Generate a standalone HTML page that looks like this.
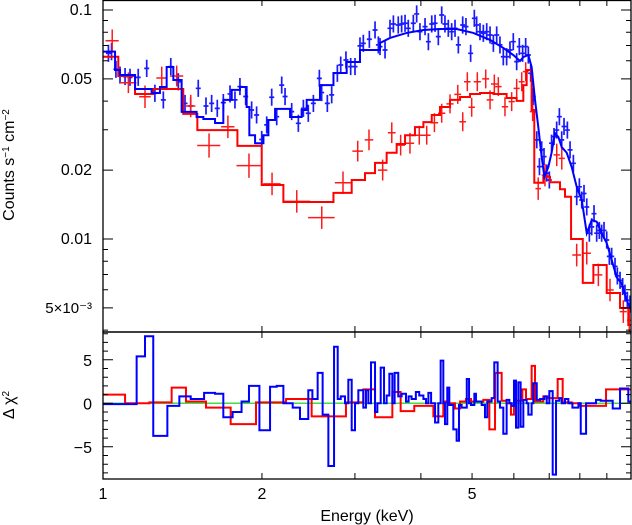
<!DOCTYPE html>
<html><head><meta charset="utf-8"><style>
html,body{margin:0;padding:0;background:#fff;}
svg{display:block;font-family:"Liberation Sans",sans-serif;}
</style></head><body>
<svg id="chart" width="632" height="525" viewBox="0 0 632 525" xmlns="http://www.w3.org/2000/svg">
<defs>
<clipPath id="clipTop"><rect x="103" y="0" width="528" height="332"/></clipPath>
<clipPath id="clipBot"><rect x="103" y="332" width="528" height="147"/></clipPath>
</defs>
<g id="gTop" clip-path="url(#clipTop)"></g>
<g id="gBot" clip-path="url(#clipBot)"></g>
<g id="gAxes"></g>
<text x="14" y="165" font-size="16" text-anchor="middle" transform="rotate(-90 14 165)">Counts s<tspan baseline-shift="super" font-size="10">−1</tspan> cm<tspan baseline-shift="super" font-size="10">−2</tspan></text>
<text x="14" y="405" font-size="16" text-anchor="middle" transform="rotate(-90 14 405)">Δ χ<tspan baseline-shift="super" font-size="10">2</tspan></text>
<text x="367" y="521" font-size="16" text-anchor="middle">Energy (keV)</text>
</svg>
<script>
// ---- data ----
const redModelEdges=[1.0,1.069,1.150,1.245,1.419,1.509,1.797,1.998,2.196,2.732,2.958,3.135,3.275,3.445,3.599,3.733,3.898,4.044,4.194,4.348,4.542,4.745,4.956,5.176,5.487,5.814,6.073,6.253,6.344,6.483,6.559,6.823,7.024,7.337,7.499,7.700,8.103,8.486,8.995,9.533,9.883,10.04];
const redModelVals=[.0625,.0515,.0430,.0452,.0352,.0299,.0255,.0172,.0145,.0159,.0181,.0194,.0215,.0238,.0260,.0284,.0308,.0324,.0348,.0377,.0405,.0417,.0430,.0434,.0430,.0413,.0401,.0470,.0547,.0366,.0176,.0187,.0177,.0165,.0153,.0100,.00643,.0077,.00581,.0050,.00421];
const redDataE=[1.041,1.117,1.201,1.292,1.379,1.466,1.588,1.724,1.890,2.090,2.328,2.596,2.848,3.037,3.190,3.386,3.523,3.662,3.814,3.972,4.103,4.243,4.380,4.542,4.698,4.801,4.898,4.992,5.116,5.307,5.408,5.510,5.607,5.772,5.943,6.074,6.209,6.318,6.512,6.672,6.872,7.234,7.394,7.891,8.245,8.673,9.125,9.670,9.926];
const redDataC=[.0734,.0481,.0418,.0505,.0515,.0381,.0256,.0309,.0209,.0174,.0146,.0124,.0176,.0242,.0271,.0200,.0291,.0257,.0262,.0284,.0284,.0322,.0354,.0389,.0428,.0325,.0486,.0376,.0486,.0500,.0405,.0475,.0463,.0378,.0398,.0455,.0486,.0538,.0360,.0166,.0190,.0233,.0225,.00851,.00867,.00697,.00599,.00482,.00442];
const redDataHW=[.03,.04,.03,.03,.04,.03,.08,.05,.10,.08,.14,.15,.10,.07,.06,.07,.06,.07,.07,.07,.07,.07,.07,.07,.07,.07,.07,.07,.08,.08,.08,.08,.08,.08,.08,.08,.08,.08,.08,.08,.1,.1,.1,.15,.15,.15,.15,.15,.1];
const redDataErr=[.12,.11,.12,.12,.11,.12,.13,.12,.13,.12,.12,.12,.12,.11,.11,.11,.11,.11,.11,.1,.1,.1,.1,.1,.1,.1,.1,.1,.1,.1,.1,.1,.1,.1,.1,.1,.1,.1,.1,.12,.12,.12,.12,.12,.12,.12,.12,.12,.12];

const blueStepEdges=[1.0,1.054,1.077,1.150,1.236,1.282,1.320,1.359,1.409,1.504,1.549,1.630,1.690,1.753,1.817,1.871,1.893,1.941,2.013,2.057,2.118,2.261,2.378,2.431,2.576,2.732,2.894,3.067,3.347];
const blueStepVals=[.0658,.0547,.0520,.0452,.0434,.0461,.0564,.0495,.0359,.0341,.0334,.0321,.0405,.0448,.0461,.0377,.0284,.0262,.0284,.0331,.0370,.0341,.0366,.0405,.0470,.0531,.0593,.0669];
const blueCurveE=[3.347,3.496,3.759,4.044,4.348,4.675,5.028,5.408,5.730,5.985,6.164,6.253,6.391,6.483,6.580,6.675,6.774,6.854,6.973,7.073,7.178,7.285,7.392,7.555,7.722,7.892,8.067,8.245,8.426,8.610,8.799,8.995,9.192,9.395,9.601,9.813,9.957,10.04];
const blueCurveC=[.0718,.0755,.0794,.0818,.0826,.0826,.0794,.0740,.0683,.0636,.0599,.0623,.0636,.0564,.0405,.0308,.0228,.0187,.0206,.0238,.0290,.0279,.0252,.0238,.0206,.0169,.0148,.0106,.0121,.0119,.0106,.0096,.0081,.0068,.0064,.0054,.0050,.0050];
const blueDataE=[1.024,1.038,1.058,1.077,1.101,1.125,1.166,1.210,1.254,1.301,1.344,1.389,1.430,1.466,1.515,1.567,1.606,1.646,1.690,1.740,1.778,1.817,1.863,1.912,1.954,1.998,2.042,2.087,2.133,2.180,2.212,2.277,2.344,2.396,2.448,2.503,2.569,2.595,2.660,2.711,2.779,2.820,2.885,2.945,3.001,3.067,3.112,3.195,3.275,3.323,
3.347,3.421,3.496,3.548,3.624,3.678,3.733,3.786,3.870,3.927,3.984,4.073,4.133,4.194,4.255,4.316,4.380,4.443,4.508,4.575,4.642,4.710,4.800,4.869,4.969,5.050,5.101,5.176,5.252,5.330,5.408,5.487,5.567,5.647,5.730,5.814,5.899,5.985,6.074,6.144,6.234,6.317,6.391,6.457,6.531,6.630,6.708,6.774,6.843,6.924,7.004,7.073,7.148,7.232,7.317,7.392,7.467,7.577,7.666,7.778,7.892,7.984,8.067,8.147,8.245,8.339,8.426,8.511,8.610,8.710,8.799,8.890,8.995,9.098,9.192,9.327,9.422,9.533,9.643,9.741,9.842,9.957];
const blueDataC=[.0647,.0658,.0551,.0520,.0512,.0508,.0508,.0556,.0433,.0405,.0566,.0486,.0391,.0381,.0455,.0381,.0391,.0372,.0394,.0430,.0405,.0463,.0419,.0366,.0348,.0272,.0315,.0416,.0342,.0470,.0419,.0360,.0320,.0372,.0354,.0391,.0503,.0436,.0391,.0426,.0529,.0575,.0605,.0566,.0566,.0697,.0715,.0745,.0818,.0704,
.0692,.0669,.0832,.0869,.0860,.0869,.0875,.0832,.0875,.0961,.0804,.0846,.0727,.0869,.0875,.0765,.0951,.0869,.0832,.0804,.0832,.0704,.0860,.0846,.0647,.0920,.0860,.0804,.0791,.0804,.0778,.0715,.0778,.0704,.0625,.0625,.0669,.0727,.0595,.0692,.0647,.0692,.0636,.0529,.0419,.0271,.0207,.0245,.0229,.0194,.0181,.0262,.0280,.0299,.0342,.0271,.0310,.0299,.0245,.0214,.0153,.0169,.0148,.0158,.0138,.0106,.0113,.0129,.0106,.0109,.0106,.0109,.0099,.0084,.0084,.0076,.0069,.0066,.0062,.0058,.0054,.0052];

const blueResEdges=[1.0,1.158,1.201,1.245,1.324,1.395,1.466,1.554,1.630,1.690,1.760,1.830,1.890,1.978,2.072,2.133,2.196,2.287,2.361,2.448,2.492,2.550,2.606,2.672,2.739,2.783,2.820,2.873,2.915,2.958,3.001,3.045,3.112,3.148,
3.181,3.218,3.275,3.308,3.357,3.406,3.445,3.486,3.532,3.567,3.624,3.678,3.748,3.791,3.841,3.913,3.971,4.044,4.091,4.133,4.182,4.255,4.316,4.360,4.411,4.443,4.488,4.528,4.608,4.675,4.723,4.778,4.886,4.935,4.977,5.050,5.086,5.214,5.290,5.343,5.445,5.509,5.590,5.647,5.730,5.814,5.883,5.943,6.003,6.056,6.118,6.180,6.253,6.344,6.391,6.483,6.531,6.630,6.728,6.854,6.924,7.004,7.107,7.211,7.317,7.392,7.499,7.609,7.745,7.951,8.032,8.221,8.585,8.762,9.233,9.533,9.883,10.04];
const blueResVals=[-0.1,5.4,7.7,-3.75,-0.3,0.8,0.5,1.2,1.1,-1.6,-1.0,0.2,2.0,-3.1,1.9,2.0,0,-0.5,-1.8,1.5,0.5,3.5,-1.3,-7.2,6.5,0.5,0.8,0,2.7,-3.1,0,1.5,-0.5,1.5,
0,4.7,-1.0,0,4.1,0,0.9,3.4,0,3.5,0.8,1.1,0.2,0.8,0.5,1.3,0.9,0.5,0,1.2,0,-2.2,0,4.9,0,-2.4,1.8,-0.2,-3.0,-4.3,-0.2,-0.5,2.8,0,-0.2,1.1,0.2,-0.2,-1.6,0.2,0.6,4.7,0.2,-0.5,-3.5,0.4,0,-0.3,2.6,-2.8,2.4,-2.7,0.4,0,-1.3,0,2.3,0.4,0.5,0.8,0,1.4,-8.2,0.3,0.6,0,0.5,0,-0.5,0,-3.5,0,0.4,0.3,-0.6,1.7,0.2];
const redResEdges=[1.0,1.101,1.224,1.349,1.436,1.567,1.745,1.949,2.222,2.484,2.885,3.112,3.275,3.532,3.662,3.886,4.224,4.411,4.508,4.642,4.745,4.869,4.977,5.252,5.392,5.527,5.689,5.814,5.925,6.003,6.225,6.326,6.483,6.580,6.823,6.954,7.263,7.423,7.722,8.008,8.968,10.04];
const redResVals=[1.0,0,0.1,1.8,0.2,-0.5,-2.4,0.1,0.5,-1.5,0.1,1.6,-1.6,1.3,-0.9,-0.3,-1.5,0.2,0,-0.6,0.2,0.5,0.2,0.4,-3.0,3.5,0.3,0,-1.3,0.3,1.6,0.5,4.3,0.2,0.8,0.6,2.8,0.1,0,-0.3,1.6];

const xTicks=[1,2,3,4,5,6,7,8,9,10];
const xTickLabels=["1","2","5"];
const yMajor=[0.1,0.05,0.02,0.01,0.005];
const yMajorLabels=["0.1","0.05","0.02","0.01","5×10⁻³"];
const yMinor=[0.09,0.08,0.07,0.06,0.04,0.03,0.009,0.008,0.007,0.006,0.004];
const resMajor=[5,0,-5];
const resMinor=[8,7,6,4,3,2,1,-1,-2,-3,-4,-6,-7,-8];

// ---- scales ----
const NS="http://www.w3.org/2000/svg";
const X0=103,X1=631,TOP0=0,TOP1=332,BOT0=332,BOT1=479;
function xs(e){return X0+528*Math.log10(e);}
function ys(c){return 10+229*Math.log10(0.1/c);}
function yr(v){return 403.3-8.7*v;}
function mk(tag,parent,attrs){const el=document.createElementNS(NS,tag);for(const k in attrs)el.setAttribute(k,attrs[k]);parent.appendChild(el);return el;}
const gTop=document.getElementById('gTop'),gBot=document.getElementById('gBot'),gAx=document.getElementById('gAxes');
function stepPath(edges,vals,yf){let d='M'+xs(edges[0]).toFixed(2)+' '+yf(vals[0]).toFixed(2);
 for(let i=0;i<vals.length;i++){d+=' H'+xs(edges[i+1]).toFixed(2);if(i+1<vals.length)d+=' V'+yf(vals[i+1]).toFixed(2);}return d;}

// blue data
for(let i=0;i<blueDataE.length;i++){const x=xs(blueDataE[i]),c=blueDataC[i];
 const p=mk('path',gTop,{d:'M'+(x-2.5)+' '+ys(c)+' H'+(x+2.5)+' M'+x+' '+ys(c*1.09)+' V'+ys(c/1.09),stroke:'#1a1aff','stroke-width':1.7,fill:'none'});
 
 }
// red data
for(let i=0;i<redDataE.length;i++){const e=redDataE[i],c=redDataC[i],hw=redDataHW[i],er=1+redDataErr[i];
 const p=mk('path',gTop,{d:'M'+xs(e-hw)+' '+ys(c)+' H'+xs(e+hw)+' M'+xs(e)+' '+ys(c*er)+' V'+ys(c/er),stroke:'#ff1a1a','stroke-width':1.5,fill:'none'});
 
 }
// red model
let rm=mk('path',gTop,{d:stepPath(redModelEdges,redModelVals,ys),stroke:'#ff0000','stroke-width':2,fill:'none'});


// blue model
let bd=stepPath(blueStepEdges,blueStepVals,ys);
for(let i=0;i<blueCurveE.length;i++)bd+=' L'+xs(blueCurveE[i]).toFixed(2)+' '+ys(blueCurveC[i]).toFixed(2);
let bm=mk('path',gTop,{d:bd,stroke:'#0000ff','stroke-width':2,fill:'none'});



// residuals
let zl=mk('line',gBot,{x1:X0,x2:X1,y1:yr(0),y2:yr(0),stroke:'#44dd44','stroke-width':1.5});


let rr=mk('path',gBot,{d:stepPath(redResEdges,redResVals,yr),stroke:'#ff0000','stroke-width':2,fill:'none'});


let br=mk('path',gBot,{d:stepPath(blueResEdges,blueResVals,yr),stroke:'#0000ff','stroke-width':2,fill:'none'});



// frames
for(const [y0,y1,nm] of [[TOP0+0.5,TOP1,'spectrum-frame'],[BOT0,BOT1,'residual-frame']]){
 const r=mk('rect',gAx,{x:X0,y:y0,width:X1-X0,height:y1-y0,fill:'none',stroke:'#000','stroke-width':1.3});
 
 }
// ticks
let td='';
for(const t of xTicks){const x=xs(t);td+='M'+x+' '+(TOP0)+' v6 M'+x+' '+TOP1+' v-6 M'+x+' '+BOT0+' v6 M'+x+' '+BOT1+' v-6 ';}
for(const v of yMajor){const y=ys(v);td+='M'+X0+' '+y+' h10 M'+X1+' '+y+' h-10 ';}
for(const v of yMinor){const y=ys(v);td+='M'+X0+' '+y+' h5 M'+X1+' '+y+' h-5 ';}
for(const v of resMajor){const y=yr(v);td+='M'+X0+' '+y+' h10 M'+X1+' '+y+' h-10 ';}
for(const v of resMinor){const y=yr(v);td+='M'+X0+' '+y+' h5 M'+X1+' '+y+' h-5 ';}
let tk=mk('path',gAx,{d:td,stroke:'#000','stroke-width':1,fill:'none'});


const xLabVals=[1,2,5];
for(let i=0;i<xLabVals.length;i++){const t=mk('text',gAx,{x:xs(xLabVals[i]),y:499,'font-size':16,'text-anchor':'middle'});t.textContent=xTickLabels[i];
 
 }
for(let i=0;i<yMajor.length;i++){const t=mk('text',gAx,{x:92,y:ys(yMajor[i])+5,'font-size':i==4?15:16,'text-anchor':'end'});t.textContent=yMajorLabels[i];
 
 }
for(const v of resMajor){const t=mk('text',gAx,{x:92,y:yr(v)+6,'font-size':16,'text-anchor':'end'});t.textContent=v<0?'−'+(-v):String(v);
 
 }
</script>
</body></html>
